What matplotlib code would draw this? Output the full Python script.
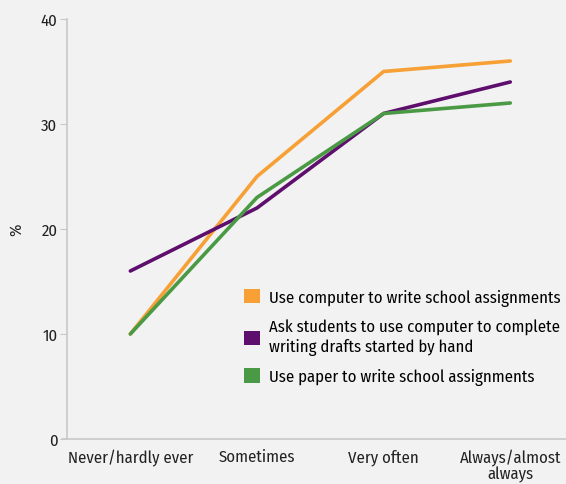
import matplotlib
matplotlib.use("Agg")
import matplotlib.pyplot as plt
from matplotlib.patches import Patch

categories = ["Never/hardly ever", "Sometimes", "Very often", "Always/almost\nalways"]
computer = [10, 25, 35, 36]
drafts = [16, 22, 31, 34]
paper = [10, 23, 31, 32]
labels = ["Use computer to write school assignments",
          "Ask students to use computer to complete\nwriting drafts started by hand",
          "Use paper to write school assignments"]
colors = ["#F7A035", "#5E0F6E", "#4A9A45"]

plt.rcParams['font.family'] = ['Fira Sans Condensed', 'Roboto Condensed', 'DejaVu Sans']
bg = "#F2F2F2"
fig = plt.figure(figsize=(5.66, 4.85), dpi=100, facecolor=bg)
ax = fig.add_axes([0.1184, 0.0928, 0.8816, 0.866])
ax.set_facecolor(bg)

x = list(range(len(categories)))
for series, c in zip([computer, drafts, paper], colors):
    ax.plot(x, series, color=c, linewidth=2.6, solid_capstyle='round')

ax.set_xlim(-0.5, 3.44)
ax.set_ylim(0, 40)
ax.set_yticks([0, 10, 20, 30, 40])
ax.set_xticks(x)
ax.set_xticklabels(categories, fontsize=12, color="#222222", linespacing=1.0)
ax.tick_params(axis='x', length=0, pad=7)
ax.tick_params(axis='y', length=5, color="#C8C8C8", labelsize=12, labelcolor="#222222", pad=2)
for s in ['top', 'right']:
    ax.spines[s].set_visible(False)
for s in ['left', 'bottom']:
    ax.spines[s].set_color("#C8C8C8")
    ax.spines[s].set_linewidth(1.2)
ax.spines['bottom'].set_bounds(-0.54, 3.44)
ax.set_ylabel("%", fontsize=12, color="#222222", labelpad=12)

handles = [Patch(facecolor=c, edgecolor='none') for c in colors]
leg = ax.legend(handles, labels, loc='upper left', bbox_to_anchor=(0.325, 0.393),
                frameon=False, fontsize=12, handlelength=0.95, handleheight=0.95,
                handletextpad=0.55, labelspacing=0.8)
fig.savefig("out.png", dpi=100, facecolor=bg)
